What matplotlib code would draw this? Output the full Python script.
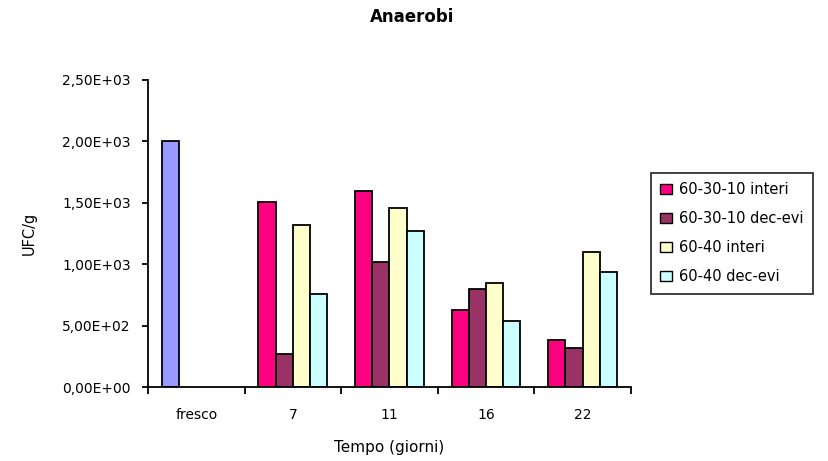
import numpy as np
import matplotlib.pyplot as plt
from matplotlib.ticker import FuncFormatter

plt.rcParams['font.family'] = ['DejaVu Sans']

# Data: CFU/g for anaerobes over storage time
categories = ['fresco', '7', '11', '16', '22']
series_names = ['60-30-10 interi', '60-30-10 dec-evi', '60-40 interi', '60-40 dec-evi']
interi_60_30_10 = [2000, 1510, 1600, 630, 380]
decevi_60_30_10 = [0, 270, 1020, 800, 315]
interi_60_40 = [0, 1320, 1460, 850, 1100]
decevi_60_40 = [0, 760, 1270, 535, 940]

values = [interi_60_30_10, decevi_60_30_10, interi_60_40, decevi_60_40]
colors = ['#FF0080', '#993366', '#FFFFCC', '#CCFFFF']
fresco_color = '#9999FF'

fig = plt.figure(figsize=(8.29, 4.61), dpi=100)
ax = fig.add_axes([0.1785, 0.1605, 0.5825, 0.666])

x = np.arange(len(categories))
w = 0.178
for k, (vals, col, name) in enumerate(zip(values, colors, series_names)):
    offs = (k - 1.5) * w
    bar_cols = [col] * len(vals)
    if k == 0:
        bar_cols[0] = fresco_color
    heights = [v if v > 0 else np.nan for v in vals]
    ax.bar(x + offs, heights, width=w, color=bar_cols, edgecolor='black',
           linewidth=1.3, label=name)

ax.set_xlim(-0.5, len(categories) - 0.5)
ax.set_ylim(0, 2500)
ax.set_yticks(np.arange(0, 2501, 500))


def sci_comma(v, pos):
    s = '%.2E' % v
    return s.replace('.', ',')


ax.yaxis.set_major_formatter(FuncFormatter(sci_comma))
ax.set_xticks(x)
ax.set_xticklabels(categories)
ax.set_xticks(np.arange(-0.5, len(categories)), minor=True)
ax.tick_params(axis='x', which='major', length=0, pad=15, labelsize=10)
ax.tick_params(axis='x', which='minor', length=5, width=1.3, direction='out')
ax.tick_params(axis='y', length=4.5, width=1.3, direction='out', labelsize=10, pad=8)

for side in ['top', 'right']:
    ax.spines[side].set_visible(False)
for side in ['left', 'bottom']:
    ax.spines[side].set_linewidth(1.3)

ax.set_ylabel('UFC/g', fontsize=10.5, labelpad=18)
ax.set_xlabel('Tempo (giorni)', fontsize=11, labelpad=13)
fig.text(0.497, 0.963, 'Anaerobi', ha='center', va='center',
         fontsize=12, fontweight='bold')

# legend only shows the series colours
handles = [plt.Rectangle((0, 0), 1, 1, facecolor=c, edgecolor='black', linewidth=1)
           for c in colors]
leg = fig.legend(handles, series_names, loc='upper left',
                 bbox_to_anchor=(651 / 829, 1 - 173 / 461), borderaxespad=0,
                 fontsize=10.5, frameon=True, fancybox=False, edgecolor='black',
                 handlelength=0.8, handleheight=0.7, handletextpad=0.5,
                 labelspacing=0.95, borderpad=0.65)
leg.get_frame().set_linewidth(1.3)

fig.savefig('out.png', dpi=100)
